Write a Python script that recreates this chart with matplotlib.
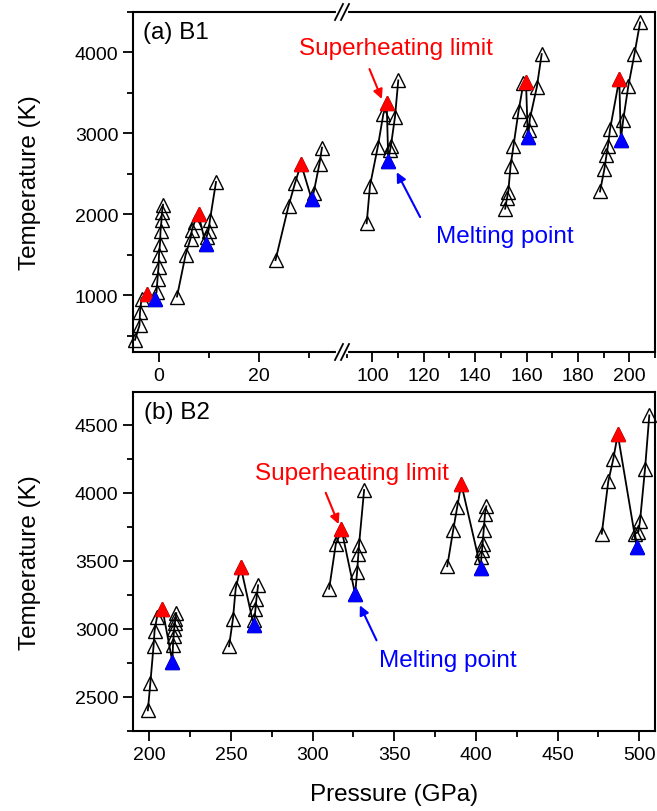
import numpy as np
import matplotlib.pyplot as plt
from matplotlib.ticker import MultipleLocator, FixedLocator

plt.rcParams['font.family'] = ['Liberation Sans', 'DejaVu Sans']

# (a) B1 -- each cluster: heating points, superheating peak, melting point, liquid points (line order)
b1_P = [
    [-4.8, -3.9, -3.8, -3.5, -2.5, -0.9, -0.5, -0.3, -0.1, 0.0, 0.2, 0.3, 0.5, 0.6, 0.8],
    [3.6, 5.3, 6.3, 6.6, 7.1, 7.9, 9.3, 9.5, 9.9, 10.2, 11.4],
    [23.3, 25.9, 27.2, 28.4, 30.5, 30.9, 32.1, 32.6],
    [97.8, 99.1, 102.1, 104.3, 105.6, 106.2, 106.9, 107.2, 108.8, 110.1],
    [151.7, 152.4, 152.9, 153.8, 154.9, 156.9, 158.8, 159.8, 160.5, 160.9, 161.3, 164.0, 165.9],
    [188.6, 190.3, 191.1, 191.7, 192.5, 196.1, 196.7, 197.6, 199.6, 202.0, 204.2],
]
b1_T = [
    [450, 630, 790, 960, 1020, 960, 1040, 1200, 1350, 1500, 1640, 1790, 1930, 2030, 2120],
    [985, 1495, 1700, 1810, 1900, 2000, 1640, 1720, 1800, 1935, 2400],
    [1435, 2103, 2385, 2625, 2193, 2260, 2628, 2825],
    [1890, 2356, 2830, 3240, 3370, 2665, 2790, 2840, 3200, 3655],
    [2070, 2200, 2280, 2600, 2840, 3275, 3620, 3640, 2960, 3040, 3180, 3570, 3980],
    [2283, 2560, 2730, 2850, 3050, 3672, 2920, 3160, 3582, 3980, 4371],
]
b1_sh_P = [-2.5, 7.9, 28.4, 105.6, 159.8, 196.1]
b1_sh_T = [1020, 2000, 2625, 3370, 3640, 3672]
b1_mp_P = [-0.9, 9.3, 30.5, 106.2, 160.5, 196.7]
b1_mp_T = [960, 1640, 2193, 2665, 2960, 2920]

# (b) B2
b2_P = [
    [199.1, 200.6, 202.6, 203.2, 204.7, 208.0, 214.1, 214.5, 214.9, 215.2, 215.6, 216.0, 216.5],
    [248.8, 251.2, 252.9, 256.0, 263.9, 264.3, 265.0, 265.6, 266.6],
    [310.1, 314.2, 316.6, 317.6, 326.0, 327.2, 328.0, 328.4, 331.5],
    [382.4, 386.0, 388.5, 391.0, 402.9, 403.3, 403.7, 404.0, 404.7, 405.5, 406.3],
    [477.0, 481.0, 484.1, 486.8, 498.4, 497.4, 499.4, 500.4, 503.5, 506.1],
]
b2_T = [
    [2402, 2600, 2876, 2987, 3087, 3148, 2759, 2885, 2950, 3000, 3040, 3075, 3115],
    [2872, 3075, 3300, 3454, 3026, 3062, 3148, 3222, 3320],
    [3295, 3626, 3690, 3735, 3255, 3418, 3552, 3619, 4020],
    [3460, 3723, 3895, 4065, 3447, 3530, 3580, 3620, 3723, 3845, 3900],
    [3699, 4083, 4250, 4430, 3601, 3699, 3712, 3790, 4176, 4568],
]
b2_sh_P = [208.0, 256.0, 317.6, 391.0, 486.8]
b2_sh_T = [3148, 3454, 3735, 4065, 4430]
b2_mp_P = [214.1, 263.9, 326.0, 402.9, 498.4]
b2_mp_T = [2759, 3026, 3255, 3447, 3601]

W, H = 657, 812
fig = plt.figure(figsize=(W / 100, H / 100), dpi=100)


def box(x0, y0, x1, y1):
    return [x0 / W, 1 - y1 / H, (x1 - x0) / W, (y1 - y0) / H]


def style(ax):
    for s in ax.spines.values():
        s.set_linewidth(1.5)
    ax.tick_params(which='both', direction='out', top=False, right=False, width=1.3, labelsize=14)
    ax.tick_params(which='major', length=7)
    ax.tick_params(which='minor', length=4)


def draw(ax, P, T):
    ax.plot(P, T, '-', color='k', lw=1.3, marker='^', ms=9.5, mfc='none', mec='k', mew=1.0,
            clip_on=False, zorder=3)


axL = fig.add_axes(box(133, 13, 342, 353))
axR = fig.add_axes(box(342, 13, 655, 353), sharey=axL)
axb = fig.add_axes(box(133, 393, 655, 732))

for i in range(3):
    draw(axL, b1_P[i], b1_T[i])
for i in range(3, 6):
    draw(axR, b1_P[i], b1_T[i])
for ax, sl in ((axL, slice(0, 3)), (axR, slice(3, 6))):
    ax.plot(b1_sh_P[sl], b1_sh_T[sl], '^', color='red', ms=10.5, mec='red', zorder=4, clip_on=False)
    ax.plot(b1_mp_P[sl], b1_mp_T[sl], '^', color='blue', ms=10.5, mec='blue', zorder=4, clip_on=False)

for i in range(len(b2_P)):
    draw(axb, b2_P[i], b2_T[i])
axb.plot(b2_sh_P, b2_sh_T, '^', color='red', ms=10.5, mec='red', zorder=4)
axb.plot(b2_mp_P, b2_mp_T, '^', color='blue', ms=10.5, mec='blue', zorder=4)

for ax in (axL, axR, axb):
    style(ax)

axL.set_xlim(-5.2, 36.6)
axR.set_xlim(88.2, 210)
axL.set_ylim(300, 4500)
axL.xaxis.set_major_locator(FixedLocator([0, 20]))
axL.xaxis.set_minor_locator(FixedLocator([10, 30]))
axR.xaxis.set_major_locator(MultipleLocator(20))
axR.xaxis.set_minor_locator(MultipleLocator(10))
axL.yaxis.set_major_locator(MultipleLocator(1000))
axL.yaxis.set_minor_locator(MultipleLocator(500))
axL.spines['right'].set_visible(False)
axR.spines['left'].set_visible(False)
axR.tick_params(which='both', left=False, labelleft=False)
axL.set_ylabel('Temperature (K)', fontsize=17.5, labelpad=24)
axL.text(0.05, 0.94, '(a) B1', transform=axL.transAxes, fontsize=17.5, va='center')

axb.set_xlim(190, 509.6)
axb.set_ylim(2250, 4740)
axb.xaxis.set_major_locator(MultipleLocator(50))
axb.xaxis.set_minor_locator(MultipleLocator(25))
axb.yaxis.set_major_locator(MultipleLocator(500))
axb.yaxis.set_minor_locator(MultipleLocator(250))
axb.set_ylabel('Temperature (K)', fontsize=17.5, labelpad=24)
axb.set_xlabel('Pressure (GPa)', fontsize=17.5, labelpad=15)
axb.text(0.022, 0.94, '(b) B2', transform=axb.transAxes, fontsize=17.5, va='center')

# axis break marks
for py in (13, 353):
    fx, fy = 342 / W, 1 - py / H
    fig.add_artist(plt.Line2D([fx - 4 / W, fx + 4 / W], [fy, fy], color='white', lw=3,
                              transform=fig.transFigure, zorder=10))
    for dx in (-3, 3):
        fig.add_artist(plt.Line2D([fx + (dx - 4) / W, fx + (dx + 4) / W],
                                  [fy - 8 / H, fy + 8 / H], color='k', lw=1.3,
                                  transform=fig.transFigure, zorder=11))

# annotations
arr = dict(arrowstyle='-|>', lw=1.5, mutation_scale=14, shrinkA=0, shrinkB=0)
axR.annotate('', xy=(103.7, 3425), xytext=(98.9, 3795), arrowprops=dict(arr, color='red'))
axR.text(109.2, 4060, 'Superheating limit', color='red', fontsize=17.5, ha='center', va='center',
         clip_on=False)
axR.annotate('', xy=(109.5, 2521), xytext=(118.6, 1967), arrowprops=dict(arr, color='blue'))
axR.text(151.6, 1736, 'Melting point', color='blue', fontsize=17.5, ha='center', va='center')

axb.annotate('', xy=(315.9, 3769), xytext=(308.0, 4000), arrowprops=dict(arr, color='red'))
axb.text(324.0, 4147, 'Superheating limit', color='red', fontsize=17.5, ha='center', va='center')
axb.annotate('', xy=(328.9, 3173), xytext=(339.1, 2916), arrowprops=dict(arr, color='blue'))
axb.text(382.8, 2774, 'Melting point', color='blue', fontsize=17.5, ha='center', va='center')

fig.savefig('out.png', dpi=100)
